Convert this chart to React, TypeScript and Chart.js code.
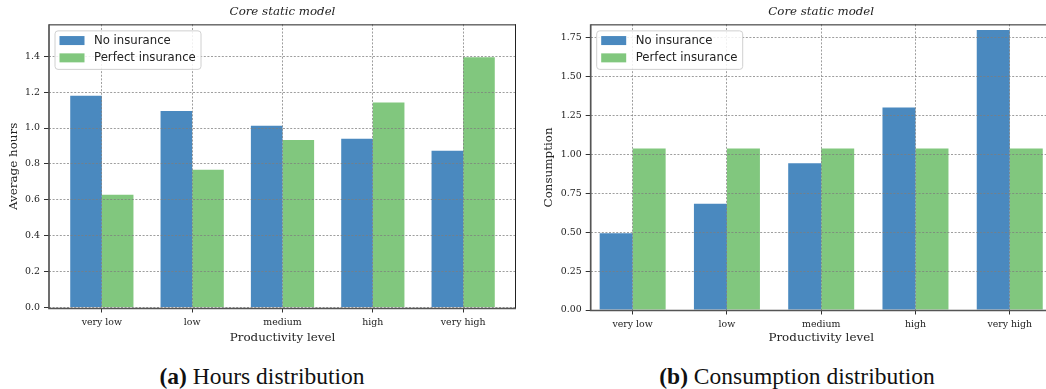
import React, { useEffect, useRef } from "react";
import { Chart, registerables } from "chart.js";

Chart.register(...registerables);

// ---------- data ----------
const categories = ["very low", "low", "medium", "high", "very high"];
const seriesNames = ["No insurance", "Perfect insurance"];
const hoursNoInsurance = [1.18, 1.095, 1.013, 0.94, 0.873];
const hoursPerfectInsurance = [0.628, 0.768, 0.934, 1.142, 1.395];
const consumptionNoInsurance = [0.493, 0.682, 0.942, 1.3, 1.797];
const consumptionPerfectInsurance = [1.036, 1.036, 1.036, 1.036, 1.036];
const hoursTicks = [0, 0.2, 0.4, 0.6, 0.8, 1.0, 1.2, 1.4];
const consumptionTicks = [0, 0.25, 0.5, 0.75, 1.0, 1.25, 1.5, 1.75];
const panelTitle = "Core static model";
const xTitle = "Productivity level";

// ---------- styles ----------
const BLUE = "rgb(74,137,191)";
const GREEN = "rgb(129,199,126)";
const GRID = "rgba(125,125,125,0.75)";
const TEXT = "#222";

const framePlugin = {
  id: "frameAndLegend",
  afterDraw(chart: any) {
    const { ctx, chartArea: a } = chart;
    ctx.save();
    // top & right spines
    ctx.strokeStyle = "#222";
    ctx.lineWidth = 1;
    ctx.beginPath();
    ctx.moveTo(a.left, a.top + 0.5);
    ctx.lineTo(a.right, a.top + 0.5);
    ctx.moveTo(a.right - 0.5, a.top);
    ctx.lineTo(a.right - 0.5, a.bottom);
    ctx.stroke();
    // left & bottom spines
    ctx.strokeStyle = "#555";
    ctx.lineWidth = 1.7;
    ctx.beginPath();
    ctx.moveTo(a.left, a.top);
    ctx.lineTo(a.left, a.bottom);
    ctx.lineTo(a.right, a.bottom);
    ctx.stroke();

    // legend box
    const bx = a.left + 6;
    const by = a.top + 6.5;
    const bw = 146;
    const bh = 38.5;
    const r = 3;
    ctx.beginPath();
    ctx.moveTo(bx + r, by);
    ctx.lineTo(bx + bw - r, by);
    ctx.quadraticCurveTo(bx + bw, by, bx + bw, by + r);
    ctx.lineTo(bx + bw, by + bh - r);
    ctx.quadraticCurveTo(bx + bw, by + bh, bx + bw - r, by + bh);
    ctx.lineTo(bx + r, by + bh);
    ctx.quadraticCurveTo(bx, by + bh, bx, by + bh - r);
    ctx.lineTo(bx, by + r);
    ctx.quadraticCurveTo(bx, by, bx + r, by);
    ctx.closePath();
    ctx.fillStyle = "rgba(255,255,255,0.85)";
    ctx.fill();
    ctx.strokeStyle = "#d0d0d0";
    ctx.lineWidth = 1;
    ctx.stroke();

    ctx.font = "11.7px 'DejaVu Sans'";
    ctx.textBaseline = "middle";
    ctx.textAlign = "left";
    chart.data.datasets.forEach((ds: any, i: number) => {
      const cy = by + 9.7 + i * 17.3;
      ctx.fillStyle = ds.backgroundColor;
      ctx.fillRect(bx + 4.5, cy - 4.5, 25, 9);
      ctx.fillStyle = TEXT;
      ctx.fillText(ds.label, bx + 39, cy + 0.5);
    });
    ctx.restore();
  },
};

type PanelProps = {
  left: number;
  width: number;
  a: number[];
  b: number[];
  yTicks: number[];
  decimals: number;
  yMin: number;
  yMax: number;
  xMin: number;
  xMax: number;
  yTitle: string;
  yTitlePad: number;
  yWidth: number;
  xHeight: number;
  padRight: number;
};

const HEIGHT = 345;

function BarPanel(p: PanelProps) {
  const ref = useRef<HTMLCanvasElement>(null);
  useEffect(() => {
    const chart = new Chart(ref.current as HTMLCanvasElement, {
      type: "bar",
      data: {
        datasets: [
          {
            label: seriesNames[0],
            data: p.a.map((v, i) => ({ x: i, y: v })),
            backgroundColor: BLUE,
            borderWidth: 0,
          },
          {
            label: seriesNames[1],
            data: p.b.map((v, i) => ({ x: i, y: v })),
            backgroundColor: GREEN,
            borderWidth: 0,
          },
        ],
      },
      options: {
        responsive: false,
        animation: false,
        devicePixelRatio: 1,
        layout: { padding: { left: 0, right: p.padRight, top: 0, bottom: 0 } },
        datasets: {
          bar: { categoryPercentage: 0.7, barPercentage: 1.0, grouped: true },
        },
        plugins: {
          legend: { display: false },
          tooltip: { enabled: false },
          title: {
            display: true,
            text: panelTitle,
            fullSize: false,
            color: TEXT,
            font: { family: "'DejaVu Serif'", size: 11.8, style: "italic", weight: "normal", lineHeight: 1.2 },
            padding: { top: 5, bottom: 5.2 },
          },
        },
        scales: {
          x: {
            type: "linear",
            min: p.xMin,
            max: p.xMax,
            offset: false,
            afterBuildTicks: (s: any) => {
              s.ticks = categories.map((_, i) => ({ value: i }));
            },
            afterFit: (s: any) => {
              s.height = p.xHeight;
            },
            grid: {
              offset: false,
              color: GRID,
              lineWidth: 1,
              z: 1,
              drawTicks: true,
              tickLength: 4,
              tickColor: "#333",
              tickWidth: 1,
            },
            border: { display: false, dash: [2, 1.6] },
            ticks: {
              autoSkip: false,
              maxRotation: 0,
              padding: 4,
              color: TEXT,
              font: { family: "'DejaVu Serif'", size: 9.4 },
              callback: (v: any) => categories[Math.round(Number(v))] ?? "",
            },
            title: {
              display: true,
              text: xTitle,
              color: TEXT,
              font: { family: "'DejaVu Serif'", size: 11.9, lineHeight: 1.2 },
              padding: { top: 0, bottom: 0.2 },
            },
          },
          y: {
            type: "linear",
            min: p.yMin,
            max: p.yMax,
            afterBuildTicks: (s: any) => {
              s.ticks = p.yTicks.map((v) => ({ value: v }));
            },
            afterFit: (s: any) => {
              s.width = p.yWidth;
            },
            grid: {
              color: GRID,
              lineWidth: 1,
              z: 1,
              drawTicks: true,
              tickLength: 5,
              tickColor: "#333",
              tickWidth: 1,
            },
            border: { display: false, dash: [2, 1.6] },
            ticks: {
              padding: 4,
              color: TEXT,
              font: { family: "'DejaVu Serif'", size: 9.4 },
              callback: (v: any) => Number(v).toFixed(p.decimals),
            },
            title: {
              display: true,
              text: p.yTitle,
              color: TEXT,
              font: { family: "'DejaVu Serif'", size: 11.9, lineHeight: 1.2 },
              padding: { top: p.yTitlePad, bottom: 0 },
            },
          },
        },
      } as any,
      plugins: [framePlugin],
    });
    return () => chart.destroy();
  }, []);
  return (
    <canvas
      ref={ref}
      width={p.width}
      height={HEIGHT}
      style={{ position: "absolute", left: p.left, top: 0, width: p.width, height: HEIGHT }}
    />
  );
}

const captionStyle: React.CSSProperties = {
  position: "absolute",
  top: 361,
  fontFamily: "'Liberation Serif', serif",
  fontSize: 23.5,
  lineHeight: "30px",
  color: "#111",
  whiteSpace: "nowrap",
  transform: "translateX(-50%)",
};

export default function App() {
  return (
    <div
      style={{
        position: "absolute",
        left: 0,
        top: 0,
        width: 1046,
        height: 389,
        overflow: "hidden",
        background: "#fff",
      }}
    >
      <BarPanel
        left={0}
        width={523}
        a={hoursNoInsurance}
        b={hoursPerfectInsurance}
        yTicks={hoursTicks}
        decimals={1}
        yMin={-0.006}
        yMax={1.578}
        xMin={-0.585}
        xMax={4.585}
        yTitle="Average hours"
        yTitlePad={6.9}
        yWidth={49}
        xHeight={36.5}
        padRight={7}
      />
      <BarPanel
        left={523}
        width={540}
        a={consumptionNoInsurance}
        b={consumptionPerfectInsurance}
        yTicks={consumptionTicks}
        decimals={2}
        yMin={-0.003}
        yMax={1.833}
        xMin={-0.445}
        xMax={4.445}
        yTitle="Consumption"
        yTitlePad={18.9}
        yWidth={67.7}
        xHeight={34.5}
        padRight={11.3}
      />
      <div style={{ ...captionStyle, left: 262 }}>
        <b>(a)</b> Hours distribution
      </div>
      <div style={{ ...captionStyle, left: 797 }}>
        <b>(b)</b> Consumption distribution
      </div>
    </div>
  );
}
